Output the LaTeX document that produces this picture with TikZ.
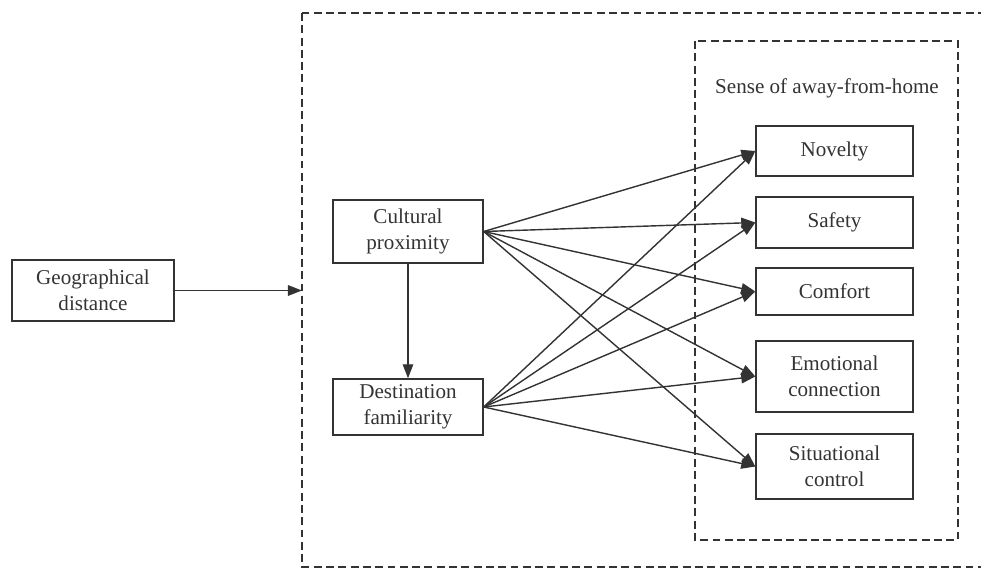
\documentclass[tikz,border=0pt]{standalone}
\usepackage{fontspec}
\setmainfont{Liberation Serif}
\usepackage{tikz}
\usetikzlibrary{arrows.meta, positioning}

\definecolor{ink}{HTML}{333333}

\begin{document}
\begin{tikzpicture}[
        x=0.02cm, y=-0.02cm,
        color=ink, line width=0.8pt,
        >={Triangle[length=8pt, width=6pt]},
        box/.style={draw, rectangle, align=center, inner sep=2pt,
                    font=\fontsize{12}{15}\selectfont},
        frame/.style={draw, dash pattern=on 4.5pt off 2.5pt}
    ]
        \useasboundingbox (0,0) rectangle (981,568);
        \clip (0,0) rectangle (981,568);

        % frames
        \draw[frame] (302,13) rectangle (1000,567);
        \draw[frame] (695,41) rectangle (958,540);
        \node[font=\fontsize{12}{15}\selectfont] (sense) at (827,88) {Sense of away-from-home};

        \node[box, minimum width=3.24cm, minimum height=1.22cm] (geo)  at (93,290.5)  {Geographical\\distance};
        \node[box, minimum width=3.0cm,  minimum height=1.26cm] (cult) at (408,231.5) {Cultural\\proximity};
        \node[box, minimum width=3.0cm,  minimum height=1.12cm] (dest) at (408,407)   {Destination\\familiarity};

        \node[box, minimum width=3.14cm, minimum height=1.0cm]  (nov)  at (834.5,151)   {Novelty};
        \node[box, minimum width=3.14cm, minimum height=1.02cm] (saf)  at (834.5,222.5) {Safety};
        \node[box, minimum width=3.14cm, minimum height=0.94cm] (com)  at (834.5,291.5) {Comfort};
        \node[box, minimum width=3.14cm, minimum height=1.42cm] (emo)  at (834.5,376.5) {Emotional\\connection};
        \node[box, minimum width=3.14cm, minimum height=1.30cm] (sit)  at (834.5,466.5) {Situational\\control};

        \coordinate (edge) at (302,290.5);
        \draw[->] (geo) -- (edge);
        \draw[->] (cult) -- (dest);

        \foreach \t in {nov, saf, com, emo, sit} {
            \draw[->] (cult.east) -- (\t.west);
            \draw[->] (dest.east) -- (\t.west);
        }
    \end{tikzpicture}
\end{document}
